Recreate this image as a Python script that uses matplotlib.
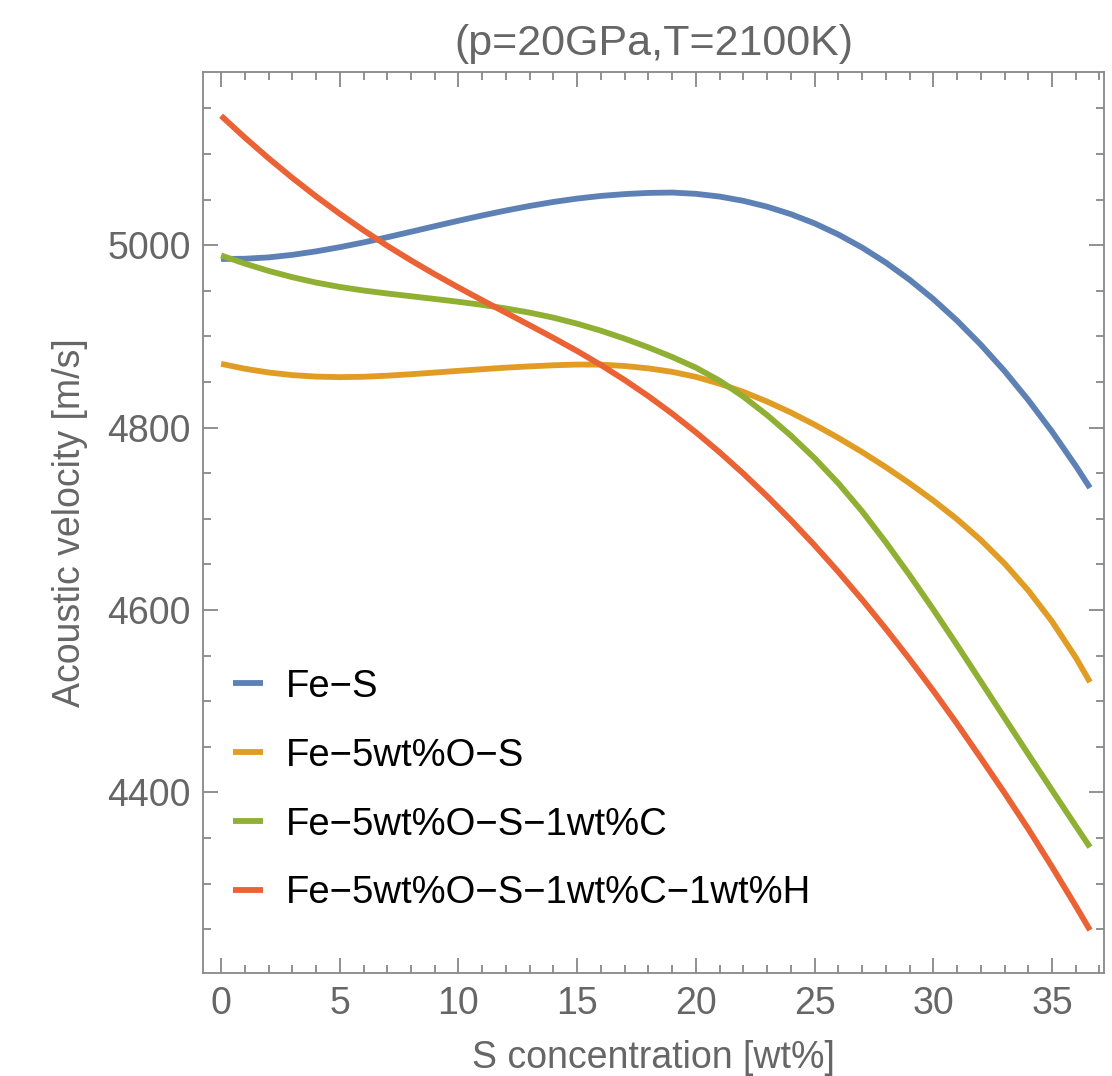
import numpy as np
import matplotlib
matplotlib.use('Agg')
import matplotlib.pyplot as plt
from matplotlib.ticker import MultipleLocator

plt.rcParams['font.family'] = ['Liberation Sans', 'DejaVu Sans']

# S concentration [wt%], values at each step
s_conc = [0, 1, 2, 3, 4, 5, 6, 7, 8, 9, 10, 11, 12, 13, 14, 15, 16, 17, 18, 19,
          20, 21, 22, 23, 24, 25, 26, 27, 28, 29, 30, 31, 32, 33, 34, 35, 36, 36.6]

# acoustic velocity [m/s]
fe_s = [4985.0, 4985.2, 4986.7, 4989.5, 4993.3, 4997.9, 5003.1, 5008.8, 5014.8, 5020.9,
        5026.9, 5032.7, 5038.1, 5043.1, 5047.5, 5051.2, 5054.1, 5056.1, 5057.4, 5057.8,
        5056.4, 5053.4, 5048.7, 5042.3, 5034.1, 5024.0, 5011.8, 4997.5, 4981.0, 4962.2,
        4941.0, 4917.3, 4891.0, 4862.1, 4830.3, 4795.7, 4758.1, 4734.0]

fe_o_s = [4870.0, 4864.6, 4860.5, 4857.6, 4856.0, 4855.4, 4855.8, 4857.0, 4858.6, 4860.4,
          4862.3, 4864.1, 4865.8, 4867.2, 4868.4, 4869.2, 4869.1, 4867.6, 4865.0, 4861.2,
          4855.7, 4848.2, 4839.2, 4828.6, 4816.6, 4803.3, 4788.8, 4773.3, 4756.7, 4739.0,
          4720.1, 4699.6, 4676.8, 4651.0, 4621.5, 4587.5, 4548.0, 4521.0]

fe_o_s_c = [4988.8, 4979.9, 4971.9, 4965.0, 4959.1, 4954.3, 4950.4, 4947.1, 4944.1, 4941.1,
            4938.0, 4934.6, 4930.7, 4926.1, 4920.6, 4914.0, 4906.3, 4897.6, 4888.0, 4877.5,
            4865.8, 4851.5, 4834.0, 4813.8, 4791.3, 4766.5, 4739.0, 4708.3, 4674.3, 4638.3,
            4600.6, 4561.6, 4521.8, 4481.8, 4442.0, 4402.5, 4363.3, 4340.0]

fe_o_s_c_h = [5142.0, 5118.1, 5095.4, 5073.9, 5053.6, 5034.5, 5016.4, 4999.4, 4983.4, 4968.2,
              4953.7, 4939.7, 4926.0, 4912.3, 4898.4, 4884.0, 4868.7, 4852.2, 4834.5, 4815.4,
              4794.9, 4773.0, 4749.6, 4724.8, 4698.6, 4671.0, 4641.9, 4611.4, 4579.5, 4546.2,
              4511.5, 4475.3, 4437.7, 4399.5, 4360.0, 4318.5, 4275.5, 4249.0]

labels = ["Fe\u2212S", "Fe\u22125wt%O\u2212S", "Fe\u22125wt%O\u2212S\u22121wt%C",
          "Fe\u22125wt%O\u2212S\u22121wt%C\u22121wt%H"]
colors = ["#5E81B5", "#E19C24", "#8FB032", "#EB6235"]

series = [fe_s, fe_o_s, fe_o_s_c, fe_o_s_c_h]

gray = "#666666"
fig = plt.figure(figsize=(11.12, 10.76), dpi=100)
ax = fig.add_axes([0.1826, 0.0957, 0.9928 - 0.1826, 0.9331 - 0.0957])

for v, lab, col in zip(series, labels, colors):
    ax.plot(s_conc, v, color=col, lw=4.2, label=lab, solid_capstyle='butt',
            solid_joinstyle='round')

ax.set_xlim(-0.76, 37.19)
ax.set_ylim(4202, 5190)

ax.xaxis.set_major_locator(MultipleLocator(5))
ax.xaxis.set_minor_locator(MultipleLocator(1))
ax.yaxis.set_major_locator(MultipleLocator(200))
ax.yaxis.set_minor_locator(MultipleLocator(50))
ax.tick_params(which='both', direction='in', top=True, right=True, color='#888888',
               width=1.3, labelcolor=gray, labelsize=27)
ax.tick_params(which='major', length=11)
ax.tick_params(which='minor', length=6)
ax.tick_params(axis='x', pad=9)
ax.tick_params(axis='y', pad=9)
for sp in ax.spines.values():
    sp.set_color('#888888')
    sp.set_linewidth(1.3)

ax.set_xlabel("S concentration [wt%]", fontsize=27, color=gray, labelpad=13)
ax.set_ylabel("Acoustic velocity [m/s]", fontsize=27, color=gray, labelpad=14)
ax.set_title("(p=20GPa,T=2100K)", fontsize=31, color=gray, pad=12)

leg = ax.legend(loc='center left', bbox_to_anchor=(0.033, 0.203), frameon=False,
                fontsize=27.5, handlelength=0.78, handletextpad=0.62, labelspacing=0.86,
                borderpad=0, borderaxespad=0)
for line in leg.get_lines():
    line.set_linewidth(4.2)

fig.savefig("out.png", dpi=100)
